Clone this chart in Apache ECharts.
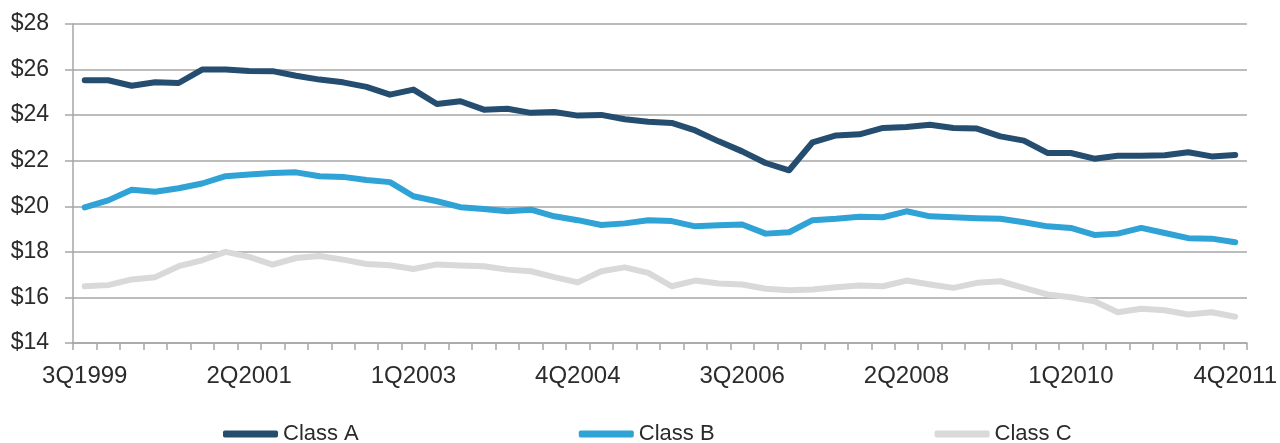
<!DOCTYPE html>
<html>
<head>
<meta charset="utf-8">
<script src="https://cdn.jsdelivr.net/npm/echarts@6/dist/echarts.min.js"></script>
<style>
  html, body { margin: 0; padding: 0; background: #fff; }
  #chart { width: 1280px; height: 443px; }
</style>
</head>
<body>
<div id="chart"></div>
<script>
// Quarterly asking rents, 3Q1999 - 4Q2011
const quarters = [];
(function buildQuarters() {
  for (let y = 1999; y <= 2011; y++) {
    for (let q = 1; q <= 4; q++) {
      if (y === 1999 && q < 3) continue;
      quarters.push(q + 'Q' + y);
    }
  }
})();

const classA = [
  25.53, 25.53, 25.29, 25.44, 25.41, 26.00, 26.00, 25.94, 25.93, 25.73,
  25.56, 25.44, 25.24, 24.90, 25.12, 24.49, 24.61, 24.24, 24.28, 24.10,
  24.14, 23.98, 24.01, 23.82, 23.71, 23.66, 23.33, 22.85, 22.41, 21.90,
  21.58, 22.81, 23.11, 23.16, 23.44, 23.48, 23.58, 23.44, 23.41, 23.07,
  22.88, 22.34, 22.34, 22.09, 22.22, 22.22, 22.24, 22.37, 22.19, 22.25
];

const classB = [
  19.95, 20.26, 20.73, 20.64, 20.79, 21.00, 21.32, 21.39, 21.46, 21.49,
  21.32, 21.29, 21.15, 21.06, 20.44, 20.22, 19.96, 19.88, 19.78, 19.85,
  19.56, 19.39, 19.18, 19.25, 19.39, 19.35, 19.12, 19.17, 19.20, 18.80,
  18.86, 19.39, 19.45, 19.54, 19.52, 19.78, 19.56, 19.52, 19.48, 19.45,
  19.30, 19.12, 19.05, 18.74, 18.80, 19.05, 18.83, 18.60, 18.58, 18.42
];

const classC = [
  16.49, 16.54, 16.79, 16.89, 17.37, 17.63, 18.00, 17.78, 17.44, 17.73,
  17.82, 17.66, 17.47, 17.41, 17.25, 17.45, 17.40, 17.37, 17.22, 17.15,
  16.89, 16.66, 17.15, 17.32, 17.08, 16.49, 16.74, 16.61, 16.57, 16.38,
  16.32, 16.35, 16.45, 16.52, 16.49, 16.74, 16.57, 16.42, 16.64, 16.71,
  16.42, 16.13, 16.01, 15.83, 15.35, 15.50, 15.44, 15.25, 15.35, 15.15
];

const seriesNames = ['Class A', 'Class B', 'Class C'];
const seriesColors = ['#244d70', '#2fa2d6', '#d9d9d9'];

const labelFont = "'Liberation Sans', Arial, sans-serif";
const axisGray = '#a6a6a6';
const textColor = '#2b2b2b';

const chart = echarts.init(document.getElementById('chart'), null, { renderer: 'canvas' });

function lineSeries(name, data, color) {
  return {
    name: name,
    type: 'line',
    data: data,
    symbol: 'none',
    smooth: false,
    lineStyle: { width: 6, color: color, cap: 'round', join: 'round' },
    itemStyle: { color: color },
    emphasis: { disabled: true }
  };
}

chart.setOption({
  animation: false,
  backgroundColor: '#ffffff',
  grid: { left: 73, right: 32, top: 24, bottom: 100, containLabel: false },
  legend: {
    bottom: -2,
    left: 223,
    padding: 0,
    itemGap: 220,
    itemWidth: 55,
    itemHeight: 7,
    icon: 'roundRect',
    textStyle: { fontFamily: labelFont, fontSize: 22, color: textColor },
    data: seriesNames
  },
  xAxis: {
    type: 'category',
    data: quarters,
    boundaryGap: true,
    axisLine: { show: true, lineStyle: { color: axisGray, width: 1.5 } },
    axisTick: { show: true, interval: 0, length: 7, lineStyle: { color: axisGray, width: 1.5 } },
    axisLabel: {
      interval: 6,
      margin: 21,
      fontFamily: labelFont,
      fontSize: 24,
      color: textColor
    },
    splitLine: { show: false }
  },
  yAxis: {
    type: 'value',
    min: 14,
    max: 28,
    interval: 2,
    axisLine: { show: true, lineStyle: { color: axisGray, width: 1.5 } },
    axisTick: { show: true, length: 8, lineStyle: { color: axisGray, width: 1.5 } },
    axisLabel: {
      margin: 24,
      fontFamily: labelFont,
      fontSize: 23,
      color: textColor,
      formatter: function (v) { return '$' + v; }
    },
    splitLine: { show: true, lineStyle: { color: axisGray, width: 1.5 } }
  },
  series: [
    lineSeries(seriesNames[0], classA, seriesColors[0]),
    lineSeries(seriesNames[1], classB, seriesColors[1]),
    lineSeries(seriesNames[2], classC, seriesColors[2])
  ]
});
</script>
</body>
</html>
